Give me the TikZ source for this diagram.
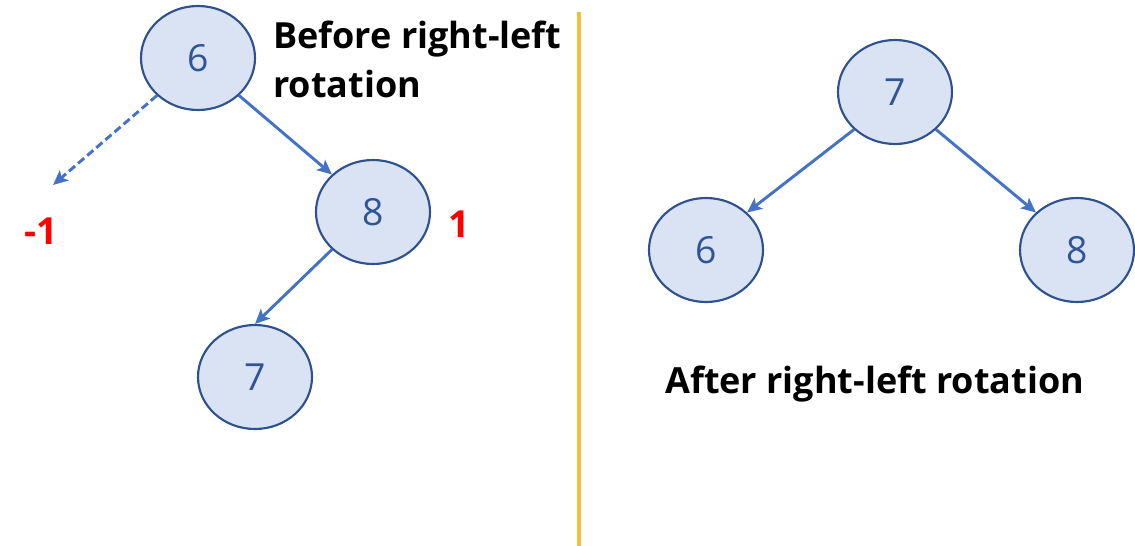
\documentclass[tikz,border=0pt]{standalone}
\usepackage{fontspec}
\setmainfont{Open Sans}
\usetikzlibrary{shapes.geometric,arrows.meta}
\definecolor{nodefill}{HTML}{DAE3F3}
\definecolor{nodeline}{HTML}{2F528F}
\definecolor{nodetext}{HTML}{2F5597}
\definecolor{arrowc}{HTML}{4472C4}
\definecolor{redlab}{HTML}{FF0000}
\definecolor{goldline}{HTML}{F2C037}
\tikzset{
  treenode/.style={ellipse, draw=nodeline, fill=nodefill, line width=1.6pt,
    minimum width=85.5pt, minimum height=78pt, inner sep=0pt,
    text=nodetext, font=\fontsize{28}{32}\selectfont},
  edge/.style={draw=arrowc, line width=2.2pt, -{Stealth[length=11pt,width=10pt,inset=2.5pt]}},
  balance/.style={text=redlab, font=\bfseries\fontsize{28}{32}\selectfont},
  title/.style={font=\bfseries\fontsize{27}{32}\selectfont, anchor=base west, inner sep=0pt},
  divider/.style={draw=goldline, line width=2.4pt}
}
\begin{document}
\begin{tikzpicture}[x=0.75pt,y=-0.75pt]
\useasboundingbox (0,0) rectangle (1135,546);
% left tree
\node[treenode] (a6) at (198,58) {6};
\node[treenode] (a8) at (373,212) {8};
\node[treenode] (a7) at (255,377) {7};
\coordinate (nil) at (53,185);
\draw[edge] (a6.south east) -- (a8.north west);
\draw[edge] (a8.south west) -- (a7.north);
\draw[edge, dashed, dash pattern=on 6pt off 3pt] (a6.south west) -- (nil);
\node[balance] (bm1) at (41,231) {-1};
\node[balance] (bp1) at (459,224) {1};
\node[title] (t1) at (273,48) {Before right-left};
\node[title] (t2) at (273,97) {rotation};
% divider
\coordinate (dtop) at (579,12);
\coordinate (dbot) at (579,546);
\draw[divider] (dtop) -- (dbot);
% right tree
\node[treenode] (b7) at (895,92) {7};
\node[treenode] (b6) at (706,250) {6};
\node[treenode] (b8) at (1077,250) {8};
\draw[edge] (b7.south west) -- (b6.north east);
\draw[edge] (b7.south east) -- (b8.north west);
\node[title] (t3) at (665,393) {After right-left rotation};
\end{tikzpicture}
\end{document}
